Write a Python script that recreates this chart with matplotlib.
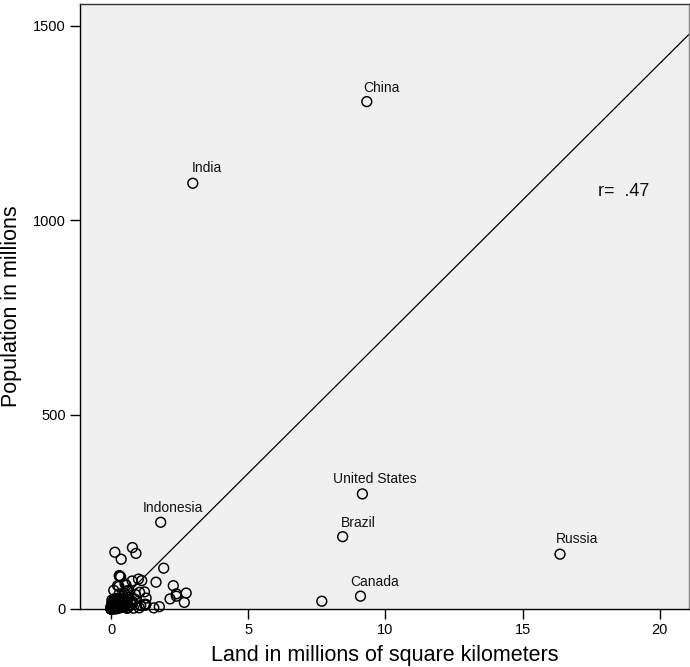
import matplotlib
matplotlib.use("Agg")
import matplotlib.pyplot as plt
import numpy as np

# pays avec etiquette (terre en millions de km2, population en millions)
label_names = ["China", "India", "United States", "Brazil", "Canada", "Russia", "Indonesia"]
label_land = [9.32, 2.98, 9.16, 8.44, 9.09, 16.36, 1.81]
label_pop = [1305, 1095, 296, 186, 33, 141, 223]
# decalage des etiquettes en pixels (gauche, ligne de base)
label_dx = [-4, -1, -29, -2, -10, -4, -18]
label_dy = [10, 11, 11, 10, 10, 11, 10]

# les autres pays
other_land = [
    7.68, 1.92, 1.64, 2.27, 2.38, 2.74, 2.67, 2.15, 2.38, 1.76, 1.56, 1.28, 1.26, 1.27,
    1.25, 1.22, 1.22, 1.04, 1.12, 1.08, 1.03, 1.00, 0.89, 0.91, 0.78, 0.14, 0.37, 0.88,
    0.82, 0.78, 0.77, 0.75, 0.74, 0.66, 0.65, 0.63, 0.62, 0.60, 0.59, 0.58, 0.57, 0.55,
    0.53, 0.51, 0.50, 0.49, 0.47, 0.45, 0.45, 0.41, 0.43, 0.43, 0.40, 0.39, 0.35, 0.34,
    0.30, 0.31, 0.33, 0.31, 0.32, 0.30, 0.21, 0.29, 0.30, 0.28, 0.27, 0.27, 0.26, 0.25,
    0.24, 0.20, 0.23, 0.23, 0.23, 0.20, 0.21, 0.19, 0.19, 0.18, 0.18, 0.17, 0.16, 0.16,
    0.14, 0.14, 0.13, 0.12, 0.12, 0.09, 0.10, 0.11, 0.11, 0.10, 0.11, 0.11, 0.11, 0.10,
    0.10, 0.09, 0.09, 0.09, 0.09, 0.086, 0.083, 0.08, 0.077, 0.074, 0.072, 0.069, 0.07,
    0.065, 0.063, 0.063, 0.054, 0.056, 0.051, 0.051, 0.048, 0.048, 0.043, 0.042, 0.034,
    0.040, 0.047, 0.028, 0.032, 0.033, 0.030, 0.030, 0.028, 0.027, 0.028, 0.028, 0.025,
    0.028, 0.025, 0.025, 0.023, 0.023, 0.021, 0.020, 0.020, 0.018, 0.018, 0.017, 0.015,
    0.010, 0.014, 0.012, 0.011, 0.010, 0.011, 0.010, 0.009, 0.009, 0.005, 0.005, 0.004,
    0.003, 0.003, 0.002, 0.002, 0.0007, 0.0007, 0.0003, 0.0003, 0.0004, 0.001, 0.001,
]
other_pop = [
    20, 105, 69, 60, 33, 41, 17, 26, 39, 6, 2.8, 28, 9.7, 12,
    11, 12, 44, 43, 73, 9, 3, 77, 37, 143, 158, 146, 128, 25,
    2, 19, 72, 16, 11, 47, 30, 8.6, 3.8, 47, 1.6, 18, 34, 61,
    21, 65, 40, 5, 16, 5.5, 33, 9, 27, 26, 6, 12, 83, 3.7,
    5.2, 84, 24, 4.6, 17, 39, 3, 58, 86, 13, 14, 4, 1.4, 9.5,
    60, 27, 22, 22, 6, 0.8, 10, 5, 12, 18, 13, 3.4, 0.4, 10,
    27, 7, 11, 5.5, 23, 12, 4.6, 7.5, 7, 3.5, 7.5, 11, 12, 0.3,
    48, 10, 10.5, 5.8, 10, 8, 8, 2.6, 10, 3, 6, 4, 4.7,
    20, 3.6, 2.3, 5.7, 4.5, 4, 4, 5.4, 9, 1.3, 5.4, 16,
    7.5, 2.2, 1.4, 23, 4.5, 10.4, 1.9, 3, 3.6, 0.5, 0.5, 6.4,
    8.1, 8.4, 2, 0.5, 0.3, 6.7, 6.3, 2, 0.9, 2.3, 1.2, 1,
    0.3, 0.6, 0.2, 0.9, 1.6, 2.7, 3.8, 0.8, 3.9, 0.37, 1.1, 0.4,
    0.18, 0.47, 1.2, 0.7, 4.4, 0.7, 0.4, 0.35, 0.28, 6.9, 0.19,
]

# droite de regression
fit_intercept = -2.5
fit_slope = 70.3
r_value = ".47"

x_ticks = [0, 5, 10, 15, 20]
y_ticks = [0, 500, 1000, 1500]

plt.rcParams['font.family'] = ['Liberation Sans', 'DejaVu Sans']

fig = plt.figure(figsize=(6.9, 6.67), dpi=100)
ax = fig.add_axes([80 / 690, 1 - 609 / 667, 609 / 690, 605 / 667])
ax.set_facecolor('#f0f0f0')

all_land = np.array(other_land + label_land)
all_pop = np.array(other_pop + label_pop)
ax.scatter(all_land, all_pop, s=50, facecolors='none', edgecolors='black',
           linewidths=1.05, zorder=3, clip_on=False)

# droite
ax.set_xlim(-1.13, 21.06)
ax.set_ylim(0, 1556)
xs = np.array(ax.get_xlim())
ax.plot(xs, fit_intercept + fit_slope * xs, color='black', linewidth=0.9, zorder=2)

for nom, lx, ly, dx, dy in zip(label_names, label_land, label_pop, label_dx, label_dy):
    ax.annotate(nom, (lx, ly), xytext=(dx, dy), textcoords='offset pixels',
                ha='left', va='baseline', fontsize=10, color='#111111', zorder=4)

ax.text(598 / 690, 1 - 191 / 667, "r=  " + r_value, transform=fig.transFigure,
        fontsize=13, ha='left', va='center', color='#111111')

ax.set_xticks(x_ticks)
ax.set_yticks(y_ticks)
ax.tick_params(direction='out', length=7, width=1, labelsize=10.5, pad=3, colors='black')
for s in ax.spines.values():
    s.set_linewidth(1)
ax.spines['top'].set_color('#333333')
ax.spines['right'].set_color('#888888')

ax.set_xlabel("Land in millions of square kilometers", fontsize=15.5, labelpad=6)
ax.set_ylabel("Population in millions", fontsize=15.5, labelpad=8)

fig.savefig("out.png", dpi=100, facecolor='white')
